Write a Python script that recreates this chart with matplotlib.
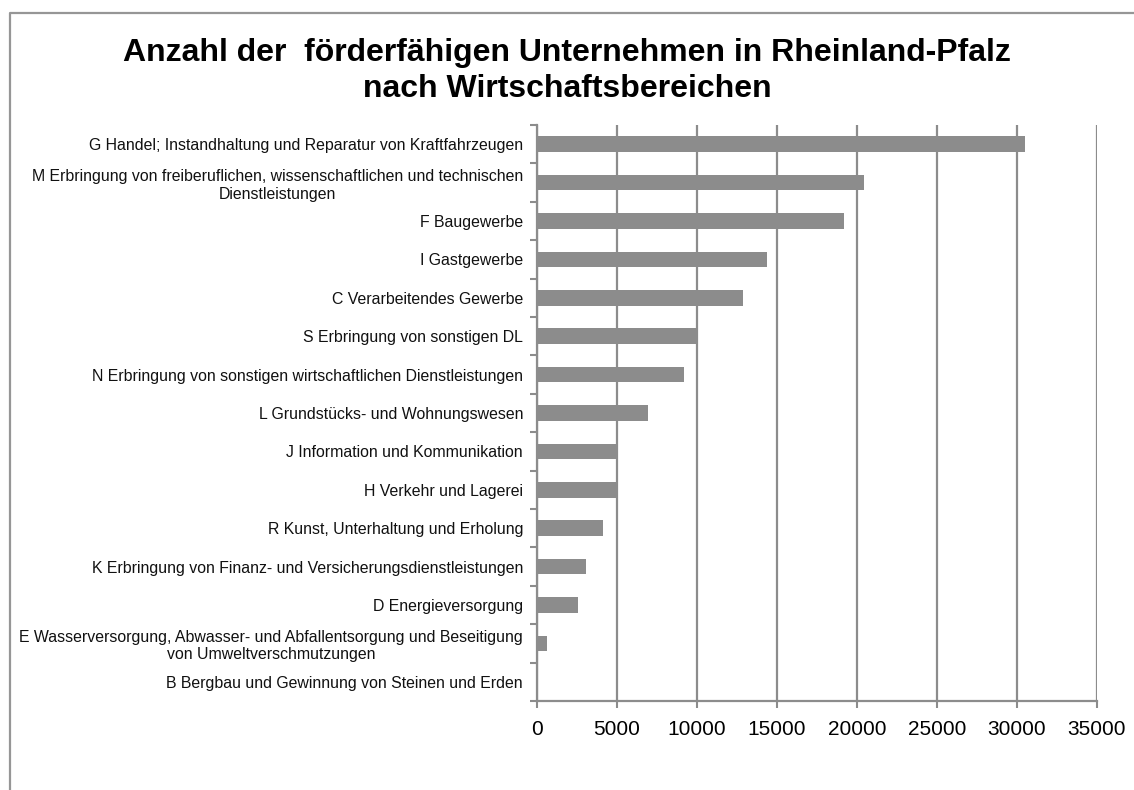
import numpy as np
import matplotlib
matplotlib.use("Agg")
import matplotlib.pyplot as plt
from matplotlib.lines import Line2D

plt.rcParams['font.family'] = ['Liberation Sans', 'DejaVu Sans']

# categories, top to bottom
labels = [
    "G Handel; Instandhaltung und Reparatur von Kraftfahrzeugen",
    "M Erbringung von freiberuflichen, wissenschaftlichen und technischen\nDienstleistungen",
    "F Baugewerbe",
    "I Gastgewerbe",
    "C Verarbeitendes Gewerbe",
    "S Erbringung von sonstigen DL",
    "N Erbringung von sonstigen wirtschaftlichen Dienstleistungen",
    "L Grundstücks- und Wohnungswesen",
    "J Information und Kommunikation",
    "H Verkehr und Lagerei",
    "R Kunst, Unterhaltung und Erholung",
    "K Erbringung von Finanz- und Versicherungsdienstleistungen",
    "D Energieversorgung",
    "E Wasserversorgung, Abwasser- und Abfallentsorgung und Beseitigung\nvon Umweltverschmutzungen",
    "B Bergbau und Gewinnung von Steinen und Erden",
]
values = [30500, 20450, 19200, 14400, 12850, 10000, 9200, 6950,
          4950, 4950, 4100, 3080, 2580, 620, 90]
xticks = [0, 5000, 10000, 15000, 20000, 25000, 30000, 35000]

title = "Anzahl der  förderfähigen Unternehmen in Rheinland-Pfalz\nnach Wirtschaftsbereichen"

W, H = 1134, 790
fig = plt.figure(figsize=(W / 100, H / 100), dpi=100)

# outer frame: only top and left edges are visible
fig.lines.append(Line2D([9.5 / W, 9.5 / W, 1.0], [0.0, 1 - 13 / H, 1 - 13 / H],
                        transform=fig.transFigure, color='#969696', linewidth=1.6))

ax = fig.add_axes([537 / W, 1 - 701 / H, (1097 - 537) / W, (701 - 125) / H])

n = len(labels)
pos = np.arange(n)
ax.barh(pos, values, height=0.41, color='#8c8c8c', zorder=3)
ax.set_ylim(n - 0.5, -0.5)
ax.set_xlim(0, 35000)

ax.set_yticks(pos)
ax.set_yticklabels(labels, fontsize=11.4, multialignment='center', color='#111111')
ax.set_yticks(np.arange(n + 1) - 0.5, minor=True)
ax.tick_params(axis='y', which='major', length=0, pad=10)
ax.tick_params(axis='y', which='minor', length=5, width=1.5, color='#8c8c8c')

ax.set_xticks(xticks)
ax.set_xticklabels([str(v) for v in xticks], fontsize=15)
ax.tick_params(axis='x', length=5, width=1.5, color='#8c8c8c', pad=9)

ax.grid(axis='x', color='#8c8c8c', linewidth=1.6, zorder=0)
for s in ['top', 'right']:
    ax.spines[s].set_visible(False)
for s in ['left', 'bottom']:
    ax.spines[s].set_color('#8c8c8c')
    ax.spines[s].set_linewidth(1.6)

fig.text(0.5, 1 - 71 / H, title, ha='center', va='center', fontsize=23,
         fontweight='bold', linespacing=1.25)

fig.savefig("out.png", dpi=100)
